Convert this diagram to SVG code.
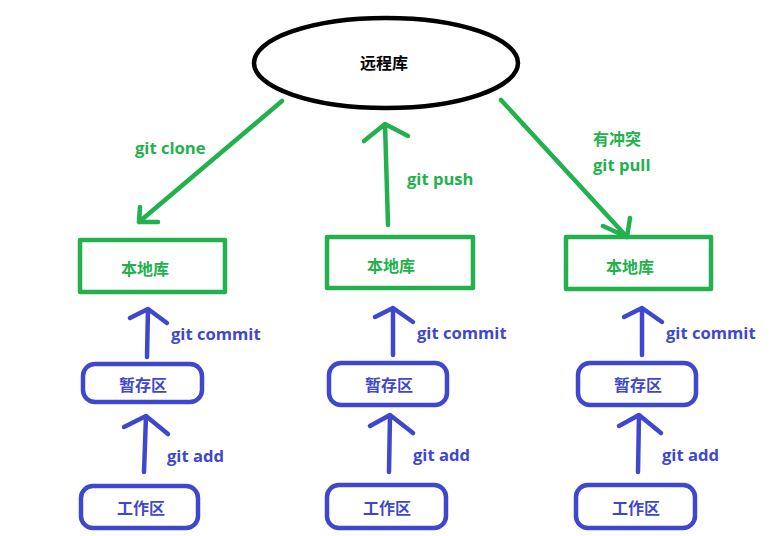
<svg xmlns="http://www.w3.org/2000/svg" width="782" height="536" viewBox="0 0 782 536">
<style>
.bg{fill:#ffffff}
.g{fill:none;stroke:#22b14c;stroke-width:4.5;stroke-linecap:round;stroke-linejoin:round}
.b{fill:none;stroke:#3f48cc;stroke-width:4.5;stroke-linecap:round;stroke-linejoin:round}
.k{fill:none;stroke:#000000;stroke-width:4.5}
.cj{font-family:"Noto Sans CJK SC","Noto Sans",sans-serif;font-size:16px;font-weight:bold;text-anchor:middle;dominant-baseline:central}
.lb{font-family:"Open Sans","Noto Sans",sans-serif;font-size:16.6px;font-weight:bold}
.tg{fill:#22b14c}
.tb{fill:#3f48cc}
.tk{fill:#000000}
</style>
<rect class="bg" x="0" y="0" width="782" height="536"/>
<g id="connectors">
  <path class="g" d="M282,101 L139,222 M140,207 L139,222 L158,222"/>
  <path class="g" d="M388,225 L385,124 M364,141 L385,124 L408,136"/>
  <path class="g" d="M501,100 L627,237 M630,218 L627,237 L603,226"/>
  <path class="b" d="M147,357 L148,309 M130,318 L148,309 L167,323"/>
  <path class="b" d="M144,472 L146,416 M124,427 L146,416 L168,434"/>
  <path class="b" d="M393,355 L393,308 M375,317 L393,308 L413,322"/>
  <path class="b" d="M389,472 L390,415 M370,426 L390,415 L413,433"/>
  <path class="b" d="M642,355 L642,308 M624,317 L642,308 L662,322"/>
  <path class="b" d="M638,472 L639,415 M619,426 L639,415 L661,433"/>
  <text class="lb tg" x="135" y="154">git clone</text>
  <text class="lb tg" x="407" y="185">git push</text>
  <text class="cj tg" x="617" y="138">有冲突</text>
  <text class="lb tg" x="593" y="171">git pull</text>
  <text class="lb tb" x="171" y="340">git commit</text>
  <text class="lb tb" x="167" y="462">git add</text>
  <text class="lb tb" x="417" y="339">git commit</text>
  <text class="lb tb" x="413" y="461">git add</text>
  <text class="lb tb" x="666" y="339">git commit</text>
  <text class="lb tb" x="662" y="461">git add</text>
</g>
<g id="remote">
  <ellipse class="k" cx="386" cy="63" rx="132" ry="45"/>
  <text class="cj tk" x="384" y="62">远程库</text>
</g>
<g id="local1">
  <rect class="g" x="80" y="240" width="145" height="52"/>
  <text class="cj tg" x="145" y="268">本地库</text>
</g>
<g id="local2">
  <rect class="g" x="327" y="237" width="146" height="51"/>
  <text class="cj tg" x="391" y="265">本地库</text>
</g>
<g id="local3">
  <rect class="g" x="566" y="237" width="145" height="52"/>
  <text class="cj tg" x="630" y="266">本地库</text>
</g>
<g id="stage1">
  <rect class="b" x="83" y="364" width="119" height="38" rx="12"/>
  <text class="cj tb" x="143" y="384">暂存区</text>
</g>
<g id="stage2">
  <rect class="b" x="329" y="363" width="118" height="42" rx="12"/>
  <text class="cj tb" x="389" y="384">暂存区</text>
</g>
<g id="stage3">
  <rect class="b" x="578" y="363" width="118" height="42" rx="12"/>
  <text class="cj tb" x="638" y="384">暂存区</text>
</g>
<g id="work1">
  <rect class="b" x="81" y="486" width="117" height="42" rx="12"/>
  <text class="cj tb" x="141" y="507">工作区</text>
</g>
<g id="work2">
  <rect class="b" x="327" y="485" width="119" height="43" rx="12"/>
  <text class="cj tb" x="387" y="507">工作区</text>
</g>
<g id="work3">
  <rect class="b" x="576" y="485" width="119" height="43" rx="12"/>
  <text class="cj tb" x="636" y="507">工作区</text>
</g>
</svg>
